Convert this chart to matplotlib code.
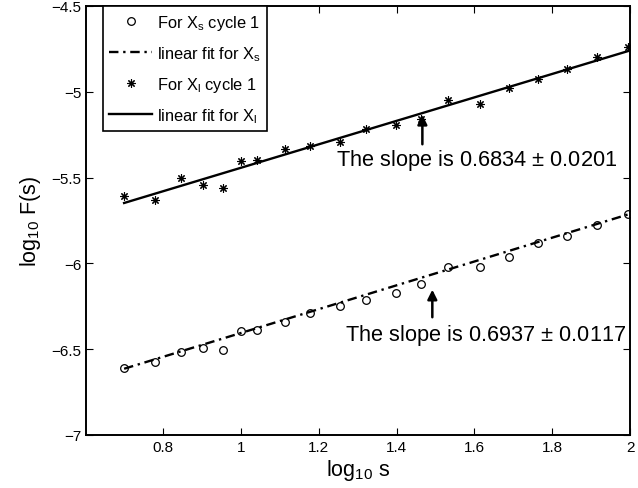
import numpy as np
import matplotlib
matplotlib.use("Agg")
import matplotlib.pyplot as plt

plt.rcParams['font.family'] = ['Liberation Sans', 'DejaVu Sans']
plt.rcParams['mathtext.default'] = 'regular'

# log10 of the scales (same for both series)
logs = np.array([0.699, 0.778, 0.845, 0.903, 0.954, 1.000, 1.041, 1.113, 1.176, 1.255,
                 1.322, 1.398, 1.462, 1.531, 1.613, 1.690, 1.763, 1.839, 1.914, 1.996])
# X_s cycle 1
fs = np.array([-6.611, -6.575, -6.518, -6.491, -6.503, -6.394, -6.390, -6.343, -6.289, -6.250,
               -6.211, -6.172, -6.120, -6.021, -6.019, -5.965, -5.881, -5.839, -5.776, -5.712])
# X_l cycle 1
fl = np.array([-5.609, -5.631, -5.504, -5.543, -5.559, -5.405, -5.399, -5.333, -5.316, -5.293,
               -5.217, -5.193, -5.159, -5.048, -5.071, -4.978, -4.925, -4.867, -4.797, -4.739])

# fitted lines, end points
fit_x = [0.699, 1.996]
fit_s = [-6.614, -5.714]
fit_l = [-5.648, -4.762]

fig = plt.figure(figsize=(6.38, 4.89), dpi=100)
ax = fig.add_axes([0.1348, 0.1084, 0.8527, 0.8773])

ax.plot(logs, fs, 'o', ms=5.5, mfc='none', mec='k', mew=0.9, label='For X$_s$ cycle 1')
ax.plot(fit_x, fit_s, color='k', lw=1.7, ls=(0, (4, 2, 1, 2)), label='linear fit for X$_s$')
ax.plot(logs, fl, ls='none', marker=(8, 2, 0), ms=6, mec='k', mew=0.8, label='For X$_l$ cycle 1')
ax.plot(fit_x, fit_l, color='k', lw=1.7, label='linear fit for X$_l$')

ax.annotate('', xy=(1.466, -5.118), xytext=(1.466, -5.322),
            arrowprops=dict(arrowstyle='-|>', color='k', lw=1.8, mutation_scale=14))
ax.text(1.245, -5.392, 'The slope is 0.6834 $\\pm$ 0.0201', fontsize=15.7, va='center', ha='left')
ax.annotate('', xy=(1.4916, -6.137), xytext=(1.4916, -6.330),
            arrowprops=dict(arrowstyle='-|>', color='k', lw=1.8, mutation_scale=14))
ax.text(1.268, -6.417, 'The slope is 0.6937 $\\pm$ 0.0117', fontsize=15.7, va='center', ha='left')

ax.set_xlim(0.601, 2.0)
ax.set_ylim(-7, -4.5)
ax.set_xticks([0.8, 1, 1.2, 1.4, 1.6, 1.8, 2])
ax.set_xticklabels(['0.8', '1', '1.2', '1.4', '1.6', '1.8', '2'])
ax.set_yticks([-7, -6.5, -6, -5.5, -5, -4.5])
ax.set_yticklabels(['\u22127', '\u22126.5', '\u22126', '\u22125.5', '\u22125', '\u22124.5'])
ax.tick_params(direction='in', top=True, right=True, length=5, width=0.8, labelsize=11)
for sp in ax.spines.values():
    sp.set_linewidth(1.4)

ax.set_xlabel('log$_{10}$ s', fontsize=15.5, labelpad=2)
ax.set_ylabel('log$_{10}$ F(s)', fontsize=15.5, labelpad=6)

leg = ax.legend(loc='upper left', bbox_to_anchor=(0.031, 1.0), borderaxespad=0,
                fontsize=11.8, fancybox=False, edgecolor='k', framealpha=1,
                handlelength=2.6, handletextpad=0.3, labelspacing=0.75, borderpad=0.4)
leg.get_frame().set_linewidth(1.2)

fig.savefig('out.png', dpi=100)
